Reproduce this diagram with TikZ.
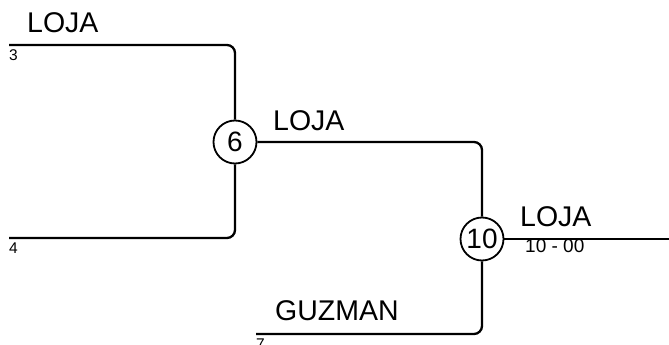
\documentclass[tikz,border=0pt]{standalone}
\usepackage{fontspec}
\setmainfont{Liberation Sans}
\usetikzlibrary{positioning}

\begin{document}
\begin{tikzpicture}[
    x=1pt, y=-1pt,
    match/.style={circle, draw, line width=1.8pt, minimum size=43pt, inner sep=0pt,
                  font=\fontsize{28}{28}\selectfont},
    team/.style={anchor=base west, inner sep=0pt, font=\fontsize{28.5}{28.5}\selectfont},
    seed/.style={anchor=base west, inner sep=0pt, font=\fontsize{15.5}{15.5}\selectfont},
    score/.style={anchor=base west, inner sep=0pt, font=\fontsize{19}{19}\selectfont},
    bracket/.style={line width=2.3pt, rounded corners=8pt}
]
\useasboundingbox (0,0) rectangle (669,345);

% matches
\node[match] (m6) at (235,142) {6};
\node[match] (m10) at (482,239) {10};

% free ends
\coordinate (s3) at (9,45);
\coordinate (s4) at (9,238);
\coordinate (s7) at (256,334);
\coordinate (win) at (669,239);

% labels
\node[team] (t3) at (27,33) {LOJA};
\node[seed] (n3) at (9,60) {3};
\node[seed] (n4) at (9,253) {4};
\node[team] (t6) at (273,130) {LOJA};
\node[team] (t10) at (520,226) {LOJA};
\node[score] (r10) at (525,252) {10 - 00};
\node[team] (t7) at (275,320) {GUZMAN};
\node[seed] (n7) at (256,349) {7};

\draw[bracket] (s3) -| (m6);
\draw[bracket] (s4) -| (m6);
\draw[bracket] (m6) -| (m10);
\draw[bracket] (s7) -| (m10);
\draw[bracket] (m10) -- (win);

\end{tikzpicture}
\end{document}
